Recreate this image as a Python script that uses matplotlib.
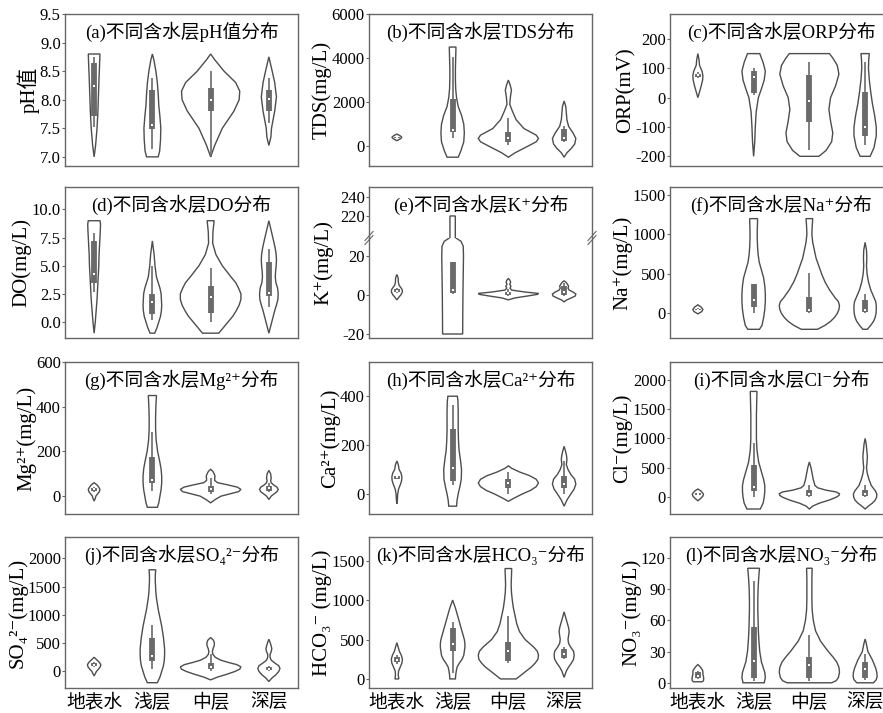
import numpy as np
import matplotlib.pyplot as plt

plt.rcParams['font.family'] = ['Liberation Serif', 'Noto Sans CJK SC', 'DejaVu Serif']
plt.rcParams['axes.unicode_minus'] = False

groups = ['地表水', '浅层', '中层', '深层']

# 每个小提琴: 轮廓的 y 值与半宽(类别间距单位); 箱线: 下须, Q1, 中位数, Q3, 上须
# (a) pH
ph_y = [[7.0, 7.2, 7.5, 7.8, 8.1, 8.4, 8.65, 8.8],
        [7.0, 7.1, 7.3, 7.5, 7.7, 7.9, 8.1, 8.3, 8.5, 8.7, 8.8],
        [7.0, 7.2, 7.5, 7.8, 8.0, 8.15, 8.3, 8.5, 8.7, 8.8],
        [7.2, 7.35, 7.5, 7.8, 8.05, 8.3, 8.5, 8.75]]
ph_w = [[0, 0.025, 0.05, 0.065, 0.075, 0.085, 0.095, 0.1],
        [0.1, 0.125, 0.14, 0.145, 0.13, 0.11, 0.1, 0.085, 0.06, 0.025, 0],
        [0, 0.07, 0.2, 0.4, 0.49, 0.5, 0.43, 0.23, 0.07, 0],
        [0, 0.035, 0.045, 0.1, 0.13, 0.1, 0.057, 0]]
ph_box = [[7.53, 7.72, 8.24, 8.64, 8.74], [7.13, 7.48, 7.55, 8.17, 8.38],
          [7.0, 7.8, 8.0, 8.2, 8.5], [7.6, 7.8, 8.02, 8.17, 8.38]]

# (b) TDS
tds_y = [[250, 330, 400, 470, 550],
         [-500, -200, 200, 600, 1000, 1400, 1800, 2200, 2600, 3000, 3500, 4000, 4500],
         [-500, -300, 0, 200, 350, 500, 800, 1200, 1600, 1900, 2200, 2550, 2800, 3000],
         [-500, -300, -100, 100, 350, 600, 900, 1200, 1500, 1800, 2050]]
tds_w = [[0, 0.06, 0.09, 0.06, 0],
         [0.1, 0.15, 0.2, 0.21, 0.2, 0.16, 0.1, 0.07, 0.055, 0.05, 0.05, 0.055, 0.06],
         [0, 0.12, 0.35, 0.5, 0.54, 0.5, 0.28, 0.14, 0.07, 0.025, 0.035, 0.055, 0.03, 0],
         [0, 0.05, 0.13, 0.19, 0.21, 0.16, 0.08, 0.05, 0.04, 0.03, 0]]
tds_box = [[370, 385, 400, 415, 430], [350, 650, 730, 2140, 4030],
           [50, 200, 380, 650, 1300], [200, 250, 380, 800, 900]]

# (c) ORP
orp_y = [[0, 20, 40, 60, 75, 90, 110, 130, 150],
         [-200, -150, -100, -50, 0, 30, 60, 90, 120, 150],
         [-200, -180, -150, -120, -80, -40, 0, 40, 80, 110, 135, 150],
         [-200, -170, -130, -100, -60, -20, 20, 60, 100, 130, 150]]
orp_w = [[0, 0.03, 0.06, 0.085, 0.09, 0.075, 0.03, 0.02, 0],
         [0, 0.02, 0.03, 0.045, 0.085, 0.14, 0.19, 0.21, 0.17, 0.11],
         [0.17, 0.3, 0.4, 0.42, 0.38, 0.35, 0.38, 0.47, 0.53, 0.5, 0.42, 0.36],
         [0.09, 0.16, 0.2, 0.2, 0.17, 0.13, 0.1, 0.075, 0.06, 0.065, 0.075]]
orp_box = [[68, 72, 76, 82, 86], [10, 17, 70, 90, 100],
           [-180, -83, -10, 77, 120], [-160, -130, -100, 20, 120]]

# (d) DO
do_y = [[-1, 0, 1, 2, 3, 4, 5, 6, 7, 8, 8.7, 9],
        [-1, -0.5, 0, 0.5, 1, 1.5, 2, 2.5, 3, 3.5, 4, 5, 6, 7.2],
        [-1, -0.5, 0, 0.5, 1, 1.5, 2, 2.5, 3, 3.5, 4, 5, 6, 7, 8, 9],
        [-1, 0, 1, 1.5, 2, 2.5, 3, 3.5, 4, 4.5, 5, 5.5, 6, 6.5, 7, 8, 9]]
do_w = [[0, 0.02, 0.035, 0.05, 0.06, 0.07, 0.08, 0.085, 0.095, 0.105, 0.11, 0.1],
        [0.04, 0.08, 0.11, 0.14, 0.155, 0.16, 0.155, 0.15, 0.13, 0.1, 0.07, 0.045, 0.03, 0],
        [0.14, 0.22, 0.3, 0.38, 0.44, 0.49, 0.52, 0.52, 0.48, 0.43, 0.35, 0.2, 0.09, 0.035, 0.04, 0.06],
        [0, 0.05, 0.1, 0.13, 0.155, 0.16, 0.15, 0.12, 0.11, 0.115, 0.125, 0.13, 0.125, 0.11, 0.09, 0.045, 0]]
do_box = [[2.7, 3.5, 4.3, 7.2, 7.9], [0.2, 0.7, 1.8, 2.5, 5.0],
          [0, 0.8, 2.2, 3.2, 4.8], [1.3, 2.3, 2.6, 5.3, 6.5]]

# (e) K+ (断轴)
k_y = [[-2.5, -1, 0, 1, 2, 3, 4, 5, 6, 7, 8, 9, 10.5],
       [-20, -10, 0, 10, 20, 25, 27.5, 29.2, 196.8, 220],
       [-2.5, -1.5, -0.5, 0.3, 0.8, 1.5, 2.5, 3.5, 4.5, 5.5, 6.5, 7.5, 8.5],
       [-3.5, -2.5, -1.5, -0.5, 0.5, 1.5, 2.5, 3.5, 4.5, 5.5, 6.5, 7.2]]
k_w = [[0, 0.04, 0.07, 0.09, 0.1, 0.09, 0.065, 0.04, 0.03, 0.025, 0.025, 0.02, 0],
       [0.18, 0.182, 0.185, 0.19, 0.195, 0.19, 0.15, 0.06, 0.048, 0.048],
       [0, 0.12, 0.35, 0.52, 0.54, 0.3, 0.06, 0.03, 0.045, 0.025, 0.04, 0.03, 0],
       [0, 0.05, 0.13, 0.2, 0.21, 0.16, 0.09, 0.07, 0.08, 0.06, 0.035, 0]]
k_box = [[1, 1.5, 2, 3, 3.5], [0.5, 0.8, 2.5, 17, 17],
         [-0.5, 0.2, 1.0, 1.5, 3], [-0.5, 0, 1.5, 4.5, 6]]

# (f) Na+
na_y = [[-5, 25, 50, 80, 110],
        [-200, -150, -50, 50, 150, 250, 350, 450, 550, 650, 750, 850, 950, 1050, 1150, 1200],
        [-200, -150, -100, -50, 0, 50, 100, 150, 200, 300, 400, 500, 600, 700, 800, 900, 1000, 1100, 1200],
        [-200, -150, -100, -50, 0, 50, 100, 150, 200, 300, 400, 500, 600, 700, 800, 900]]
na_w = [[0, 0.07, 0.09, 0.06, 0],
        [0.105, 0.15, 0.18, 0.2, 0.21, 0.21, 0.2, 0.18, 0.14, 0.1, 0.08, 0.07, 0.065, 0.065, 0.07, 0.07],
        [0.145, 0.28, 0.38, 0.45, 0.5, 0.53, 0.54, 0.52, 0.46, 0.36, 0.28, 0.22, 0.17, 0.12, 0.09, 0.06, 0.045, 0.05, 0.06],
        [0.04, 0.1, 0.15, 0.18, 0.195, 0.2, 0.2, 0.19, 0.16, 0.1, 0.06, 0.035, 0.025, 0.03, 0.025, 0]]
na_box = [[35, 40, 50, 60, 65], [10, 80, 175, 375, 375],
          [10, 20, 50, 210, 510], [10, 20, 50, 170, 250]]

# (g) Mg2+
mg_y = [[-22, -10, 0, 10, 20, 30, 40, 50, 60],
        [-50, -30, 0, 30, 60, 90, 120, 150, 200, 250, 300, 350, 400, 450],
        [-30, -15, 0, 10, 20, 30, 40, 50, 60, 70, 80, 90, 100, 110, 120],
        [-15, 0, 10, 20, 30, 40, 50, 60, 70, 80, 90, 100, 115]]
mg_w = [[0, 0.02, 0.03, 0.06, 0.09, 0.1, 0.08, 0.05, 0],
        [0.086, 0.11, 0.13, 0.15, 0.16, 0.16, 0.15, 0.13, 0.09, 0.065, 0.055, 0.055, 0.06, 0.07],
        [0, 0.08, 0.18, 0.33, 0.48, 0.52, 0.46, 0.3, 0.12, 0.07, 0.07, 0.075, 0.06, 0.04, 0],
        [0, 0.04, 0.09, 0.14, 0.16, 0.14, 0.08, 0.04, 0.03, 0.04, 0.035, 0.03, 0]]
mg_box = [[20, 25, 30, 35, 40], [25, 60, 70, 175, 285],
          [10, 20, 30, 45, 80], [20, 25, 35, 45, 60]]

# (h) Ca2+
ca_y = [[-40, -20, 0, 20, 40, 55, 70, 85, 100, 120, 135],
        [-50, -25, 0, 30, 60, 100, 140, 180, 220, 260, 300, 340, 380, 400],
        [-30, -15, 0, 15, 30, 45, 60, 75, 90, 105, 115],
        [-50, -25, 0, 20, 40, 60, 80, 100, 120, 140, 155, 175, 195]]
ca_w = [[0, 0.01, 0.015, 0.03, 0.065, 0.085, 0.09, 0.075, 0.04, 0.025, 0],
        [0.07, 0.08, 0.1, 0.13, 0.155, 0.16, 0.14, 0.115, 0.105, 0.1, 0.1, 0.1, 0.095, 0.085],
        [0, 0.12, 0.25, 0.4, 0.5, 0.54, 0.5, 0.38, 0.2, 0.06, 0],
        [0, 0.05, 0.12, 0.18, 0.21, 0.19, 0.12, 0.07, 0.04, 0.05, 0.045, 0.025, 0]]
ca_box = [[60, 62, 68, 72, 75], [35, 55, 105, 265, 365],
          [0, 25, 45, 60, 90], [0, 25, 40, 75, 135]]

# (i) Cl-
cl_y = [[-60, -20, 20, 50, 80, 110, 140],
        [-200, -100, 0, 100, 200, 300, 400, 500, 600, 800, 1000, 1200, 1400, 1600, 1800],
        [-200, -150, -100, -50, 0, 30, 60, 90, 120, 160, 200, 300, 400, 500, 600],
        [-200, -150, -100, -50, 0, 50, 100, 150, 200, 300, 400, 500, 600, 700, 800, 900, 1000]]
cl_w = [[0, 0.05, 0.09, 0.1, 0.08, 0.05, 0],
        [0.12, 0.17, 0.19, 0.2, 0.2, 0.18, 0.15, 0.12, 0.09, 0.06, 0.05, 0.05, 0.05, 0.055, 0.06],
        [0, 0.06, 0.18, 0.35, 0.48, 0.53, 0.54, 0.48, 0.3, 0.15, 0.1, 0.07, 0.05, 0.03, 0],
        [0, 0.06, 0.13, 0.18, 0.205, 0.21, 0.19, 0.15, 0.11, 0.07, 0.04, 0.025, 0.035, 0.04, 0.03, 0.02, 0]]
cl_box = [[30, 40, 50, 70, 80], [0, 100, 170, 550, 920],
          [0, 20, 60, 120, 200], [0, 20, 60, 120, 200]]

# (j) SO4 2-
so4_y = [[-80, -40, 0, 40, 80, 120, 160, 200, 250],
         [-200, -100, 0, 100, 200, 300, 400, 500, 600, 700, 800, 900, 1000, 1100, 1200,
          1300, 1400, 1500, 1600, 1700, 1800],
         [-150, -100, -50, 0, 40, 80, 120, 160, 200, 250, 300, 350, 400, 450, 500, 550, 600],
         [-180, -120, -60, 0, 50, 100, 150, 200, 250, 300, 350, 400, 450, 500, 570]]
so4_w = [[0, 0.02, 0.04, 0.075, 0.105, 0.115, 0.09, 0.05, 0],
         [0.086, 0.13, 0.16, 0.19, 0.205, 0.21, 0.21, 0.2, 0.19, 0.175, 0.16, 0.14, 0.12, 0.1,
          0.085, 0.07, 0.06, 0.055, 0.05, 0.05, 0.057],
         [0, 0.12, 0.28, 0.42, 0.5, 0.52, 0.45, 0.3, 0.17, 0.08, 0.04, 0.03, 0.04, 0.06, 0.065, 0.05, 0],
         [0, 0.05, 0.12, 0.17, 0.19, 0.17, 0.1, 0.04, 0.02, 0.02, 0.04, 0.05, 0.04, 0.025, 0]]
so4_box = [[80, 100, 120, 140, 160], [50, 180, 280, 600, 830],
           [0, 40, 80, 150, 300], [0, 20, 50, 80, 100]]

# (k) HCO3-
hco3_y = [[0, 50, 100, 150, 200, 250, 300, 350, 400, 460],
          [0, 50, 100, 150, 200, 250, 300, 350, 400, 450, 500, 550, 600, 700, 800, 900, 1000],
          [0, 50, 100, 150, 200, 250, 300, 350, 400, 500, 600, 700, 800, 900, 1000, 1100, 1200, 1300, 1400],
          [20, 100, 150, 200, 250, 300, 350, 400, 450, 500, 550, 600, 650, 700, 750, 850]]
hco3_w = [[0.035, 0.025, 0.03, 0.06, 0.09, 0.1, 0.08, 0.045, 0.025, 0],
          [0.05, 0.055, 0.065, 0.08, 0.12, 0.17, 0.2, 0.21, 0.22, 0.22, 0.21, 0.19, 0.17, 0.13, 0.09, 0.05, 0],
          [0.14, 0.23, 0.32, 0.41, 0.48, 0.53, 0.54, 0.52, 0.46, 0.3, 0.2, 0.15, 0.12, 0.09, 0.07, 0.055, 0.05, 0.055, 0.06],
          [0, 0.04, 0.08, 0.13, 0.17, 0.18, 0.17, 0.12, 0.08, 0.07, 0.08, 0.09, 0.08, 0.06, 0.04, 0]]
hco3_box = [[190, 210, 240, 280, 300], [70, 350, 440, 650, 720],
            [200, 230, 350, 470, 800], [250, 270, 320, 380, 400]]

# (l) NO3-
no3_y = [[1, 2, 4, 6, 8, 10, 12, 14, 16, 17.5],
         [0, 5, 10, 15, 20, 30, 40, 50, 60, 70, 80, 90, 100, 110],
         [0, 2, 5, 10, 15, 20, 25, 30, 40, 50, 60, 70, 80, 90, 100, 110],
         [0, 3, 6, 10, 14, 18, 22, 26, 30, 34, 38, 42]]
no3_w = [[0.08, 0.1, 0.105, 0.1, 0.09, 0.09, 0.085, 0.06, 0.03, 0],
         [0.19, 0.21, 0.2, 0.17, 0.14, 0.11, 0.095, 0.085, 0.08, 0.075, 0.075, 0.08, 0.09, 0.105],
         [0.4, 0.48, 0.52, 0.54, 0.53, 0.49, 0.42, 0.34, 0.2, 0.11, 0.07, 0.05, 0.045, 0.045, 0.045, 0.05],
         [0.15, 0.2, 0.215, 0.21, 0.19, 0.16, 0.13, 0.09, 0.05, 0.035, 0.02, 0]]
no3_box = [[4, 5, 7, 10, 11], [2, 5, 21, 54, 98], [2, 5, 17, 25, 46], [3, 5, 13, 20, 28]]

EDGE = '#4d4d4d'
BOXC = '#6a6a6a'
SPINE = '#666666'

W, H = 883, 713
rows = [(14, 166), (187, 338), (362, 514), (537, 688)]
cols = [(65, 298), (369, 592), (670, 893)]


def make_ax(fig, x0, x1, y0, y1):
    return fig.add_axes([x0 / W, 1 - y1 / H, (x1 - x0) / W, (y1 - y0) / H])


def draw_violins(ax, ys, ws, boxes):
    for i in range(len(ys)):
        y = np.array(ys[i], dtype=float)
        w = np.array(ws[i], dtype=float)
        xs = np.concatenate([i - w, (i + w)[::-1]])
        yy = np.concatenate([y, y[::-1]])
        ax.fill(xs, yy, facecolor='white', edgecolor=EDGE, lw=1.0, zorder=2)
        lo, q1, med, q3, hi = boxes[i]
        ax.vlines(i, lo, hi, color=BOXC, lw=1.2, zorder=3)
        ax.vlines(i, q1, q3, color=BOXC, lw=4.2, zorder=3)
        ax.plot(i, med, 's', color='white', ms=1.8, mew=0, zorder=4)


def style_ax(ax, bottom_row):
    for s in ax.spines.values():
        s.set_color(SPINE)
        s.set_linewidth(1.0)
    ax.set_xlim(-0.5, 3.5)
    ax.set_xticks(range(4))
    ax.tick_params(axis='y', direction='out', length=2, width=0.8, color=SPINE,
                   labelsize=12, pad=1)
    ax.tick_params(axis='x', length=0, labelsize=13.5, pad=4)
    if bottom_row:
        ax.set_xticklabels(groups)
    else:
        ax.set_xticklabels([])


def put_title(ax, text):
    ax.annotate(text, xy=(0.5, 1), xycoords='axes fraction', xytext=(0, -13),
                textcoords='offset points', ha='center', va='center', fontsize=13.5)


panels = [
    (ph_y, ph_w, ph_box, (6.84, 9.5), np.arange(7.0, 9.51, 0.5), 'pH值', '(a)不同含水层pH值分布'),
    (tds_y, tds_w, tds_box, (-900, 6000), [0, 2000, 4000, 6000], 'TDS(mg/L)', '(b)不同含水层TDS分布'),
    (orp_y, orp_w, orp_box, (-233, 285), [-200, -100, 0, 100, 200], 'ORP(mV)', '(c)不同含水层ORP分布'),
    (do_y, do_w, do_box, (-1.43, 12), [0, 2.5, 5, 7.5, 10], 'DO(mg/L)', '(d)不同含水层DO分布'),
    None,
    (na_y, na_w, na_box, (-310, 1600), [0, 500, 1000, 1500], 'Na⁺(mg/L)', '(f)不同含水层Na⁺分布'),
    (mg_y, mg_w, mg_box, (-80, 600), [0, 200, 400, 600], 'Mg²⁺(mg/L)', '(g)不同含水层Mg²⁺分布'),
    (ca_y, ca_w, ca_box, (-82, 540), [0, 200, 400], 'Ca²⁺(mg/L)', '(h)不同含水层Ca²⁺分布'),
    (cl_y, cl_w, cl_box, (-285, 2300), [0, 500, 1000, 1500, 2000], 'Cl⁻(mg/L)', '(i)不同含水层Cl⁻分布'),
    (so4_y, so4_w, so4_box, (-294, 2380), [0, 500, 1000, 1500, 2000], 'SO₄²⁻(mg/L)',
     '(j)不同含水层SO₄²⁻分布'),
    (hco3_y, hco3_w, hco3_box, (-115, 1800), [0, 500, 1000, 1500], 'HCO₃⁻ (mg/L)',
     '(k)不同含水层HCO₃⁻分布'),
    (no3_y, no3_w, no3_box, (-5, 140), [0, 30, 60, 90, 120], 'NO₃⁻(mg/L)',
     '(l)不同含水层NO₃⁻分布'),
]

fig = plt.figure(figsize=(W / 100, H / 100), dpi=100)

for idx, p in enumerate(panels):
    r, c = divmod(idx, 3)
    x0, x1 = cols[c]
    y0, y1 = rows[r]
    if p is None:
        # K+ 断轴面板
        brk = 238
        ax_up = make_ax(fig, x0, x1, y0, brk)
        ax_lo = make_ax(fig, x0, x1, brk, y1)
        for ax in (ax_up, ax_lo):
            draw_violins(ax, k_y, k_w, k_box)
            style_ax(ax, False)
        ax_up.set_ylim(196.8, 250.5)
        ax_up.set_yticks([220, 240])
        ax_lo.set_ylim(-22.05, 29.2)
        ax_lo.set_yticks([-20, 0, 20])
        ax_up.spines['bottom'].set_visible(False)
        ax_lo.spines['top'].set_visible(False)
        ax_lo.set_ylabel('K⁺(mg/L)', fontsize=15)
        ax_lo.yaxis.set_label_coords(-0.16, 0.75)
        put_title(ax_up, '(e)不同含水层K⁺分布')
        for xb in (0, 1):
            for dy in (-0.02, 0.02):
                ax_lo.plot([xb - 0.018, xb + 0.018], [1 + dy - 0.045, 1 + dy + 0.045],
                           transform=ax_lo.transAxes, color=SPINE, lw=0.8, clip_on=False)
        continue
    ys, ws, boxes, ylim, yticks, ylabel, title = p
    ax = make_ax(fig, x0, x1, y0, y1)
    draw_violins(ax, ys, ws, boxes)
    style_ax(ax, r == 3)
    ax.set_ylim(*ylim)
    ax.set_yticks(yticks)
    ax.set_ylabel(ylabel, fontsize=15, labelpad=0)
    put_title(ax, title)

fig.savefig('out.png', dpi=100)
